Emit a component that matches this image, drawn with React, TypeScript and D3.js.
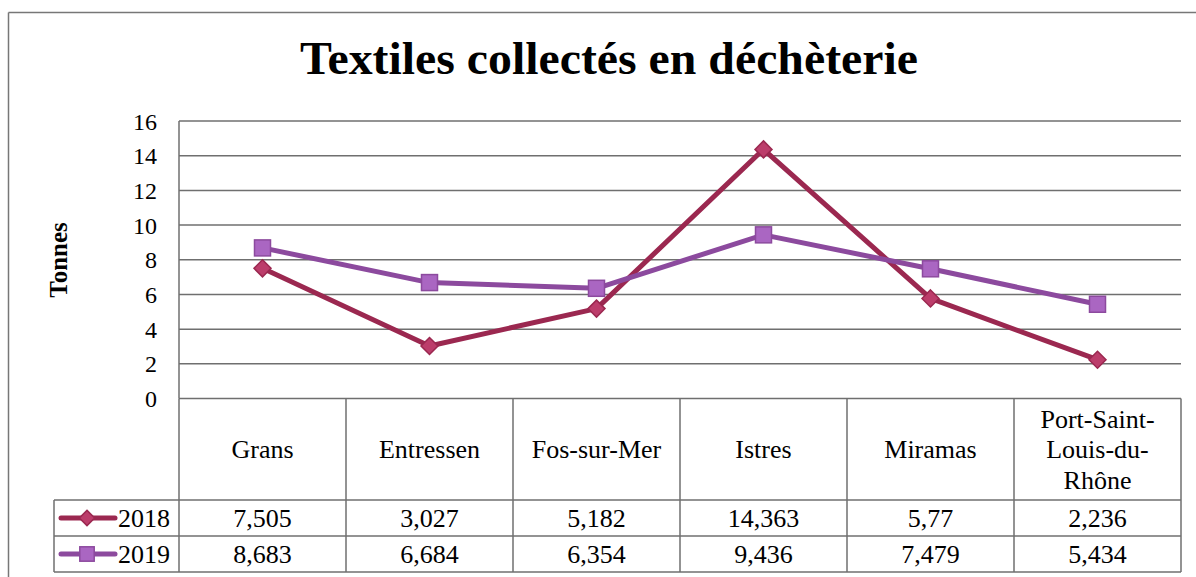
import React from "react";
import * as d3 from "d3";

const categories = ["Grans", "Entressen", "Fos-sur-Mer", "Istres", "Miramas", "Port-Saint-Louis-du-Rhône"];
const categoryLines = [["Grans"], ["Entressen"], ["Fos-sur-Mer"], ["Istres"], ["Miramas"], ["Port-Saint-", "Louis-du-", "Rhône"]];
const values2018 = [7.505, 3.027, 5.182, 14.363, 5.77, 2.236];
const values2019 = [8.683, 6.684, 6.354, 9.436, 7.479, 5.434];
const labels2018 = ["7,505", "3,027", "5,182", "14,363", "5,77", "2,236"];
const labels2019 = ["8,683", "6,684", "6,354", "9,436", "7,479", "5,434"];
const yTicks = [0, 2, 4, 6, 8, 10, 12, 14, 16];

const series = [
  { name: "2018", values: values2018, labels: labels2018, line: "#9B2850", fill: "#BC3D6B", marker: "diamond" },
  { name: "2019", values: values2019, labels: labels2019, line: "#8C4A9E", fill: "#AA66C2", marker: "square" },
];

export default function App() {
  const W = 1196, H = 577;
  const left = 179, right = 1181, top = 121, bottom = 398.5;
  const x = d3.scaleBand<string>().domain(categories).range([left, right]);
  const y = d3.scaleLinear().domain([0, 16]).range([bottom, top]);
  const headerBottom = 500;
  const rowH = 36;
  const legendLeft = 54;
  const font = "'Liberation Serif', 'Times New Roman', serif";
  const grid = "#6f6f6f";

  const lineGen = (vals: number[]) =>
    d3.line<number>().x((_, i) => (x(categories[i]) as number) + x.bandwidth() / 2).y((v) => y(v))(vals) || "";

  const marker = (kind: string, cx: number, cy: number, fill: string, stroke: string, key: string, s = 1) =>
    kind === "diamond" ? (
      <path key={key} d={`M${cx},${cy - 8.5 * s}L${cx + 8.5 * s},${cy}L${cx},${cy + 8.5 * s}L${cx - 8.5 * s},${cy}Z`} fill={fill} stroke={stroke} strokeWidth={1.5} />
    ) : (
      <rect key={key} x={cx - 8 * s} y={cy - 8 * s} width={16 * s} height={16 * s} fill={fill} stroke={stroke} strokeWidth={1.5} />
    );

  return (
    <svg width={W} height={H} style={{ position: "absolute", left: 0, top: 0, fontFamily: font }}>
      <rect x={0} y={0} width={W} height={H} fill="#fff" />
      {/* outer frame */}
      <line x1={8.5} y1={12.5} x2={W} y2={12.5} stroke="#777" strokeWidth={1.5} />
      <line x1={8.5} y1={12.5} x2={8.5} y2={H} stroke="#777" strokeWidth={1.5} />
      <text x={609} y={74} textAnchor="middle" fontSize={47} fontWeight="bold" fill="#000" textLength={618} lengthAdjust="spacingAndGlyphs">Textiles collectés en déchèterie</text>
      <text transform={`translate(67,260) rotate(-90)`} textAnchor="middle" fontSize={25} fontWeight="bold">Tonnes</text>

      {/* gridlines */}
      {yTicks.map((t) => (
        <line key={t} x1={left} x2={right} y1={y(t)} y2={y(t)} stroke={grid} strokeWidth={1.5} />
      ))}
      <line x1={left} x2={left} y1={top} y2={bottom} stroke={grid} strokeWidth={1.5} />
      {yTicks.map((t) => (
        <text key={"l" + t} x={157} y={y(t) + 8.5} textAnchor="end" fontSize={24}>{t}</text>
      ))}

      {/* table */}
      <g stroke={grid} strokeWidth={1.5}>
        <line x1={left} x2={left} y1={bottom} y2={headerBottom + 2 * rowH} />
        {categories.map((c) => (
          <line key={c} x1={(x(c) as number) + x.bandwidth()} x2={(x(c) as number) + x.bandwidth()} y1={bottom} y2={headerBottom + 2 * rowH} />
        ))}
        <line x1={legendLeft} x2={right} y1={headerBottom} y2={headerBottom} />
        <line x1={legendLeft} x2={right} y1={headerBottom + rowH} y2={headerBottom + rowH} />
        <line x1={legendLeft} x2={right} y1={headerBottom + 2 * rowH} y2={headerBottom + 2 * rowH} />
        <line x1={legendLeft} x2={legendLeft} y1={headerBottom} y2={headerBottom + 2 * rowH} />
      </g>
      {categories.map((c, i) => {
        const lines = categoryLines[i];
        const cy = (bottom + headerBottom) / 2;
        const lh = 30.5;
        const start = cy - ((lines.length - 1) * lh) / 2;
        return lines.map((ln, j) => (
          <text key={c + j} x={(x(c) as number) + x.bandwidth() / 2} y={start + j * lh + 9} textAnchor="middle" fontSize={26}>{ln}</text>
        ));
      })}
      {series.map((s, si) => {
        const ry = headerBottom + si * rowH + rowH / 2;
        return (
          <g key={"row" + s.name}>
            <line x1={61} x2={115} y1={ry} y2={ry} stroke={s.line} strokeWidth={5} strokeLinecap="round" />
            {marker(s.marker, 87, ry, s.fill, s.line, "lm" + s.name, 0.9)}
            <text x={118} y={ry + 9} fontSize={26}>{s.name}</text>
            {s.labels.map((lb, i) => (
              <text key={i} x={(x(categories[i]) as number) + x.bandwidth() / 2} y={ry + 9} textAnchor="middle" fontSize={26}>{lb}</text>
            ))}
          </g>
        );
      })}

      {/* lines */}
      {series.map((s) => (
        <g key={s.name}>
          <path d={lineGen(s.values)} fill="none" stroke={s.line} strokeWidth={5} strokeLinejoin="round" />
          {s.values.map((v, i) =>
            marker(s.marker, (x(categories[i]) as number) + x.bandwidth() / 2, y(v), s.fill, s.line, s.name + i)
          )}
        </g>
      ))}
    </svg>
  );
}
